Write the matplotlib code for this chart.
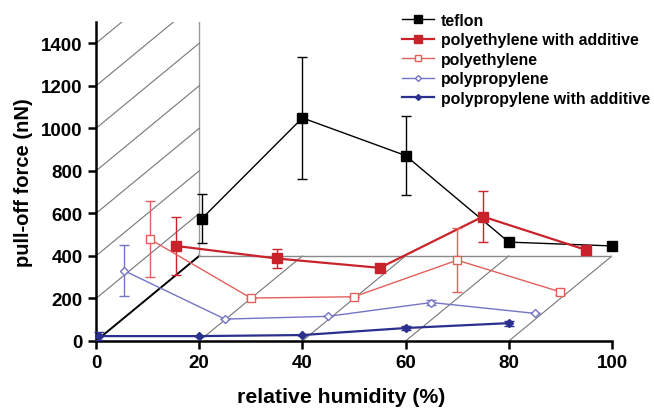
import numpy as np
import matplotlib.pyplot as plt
from matplotlib.lines import Line2D

plt.rcParams['font.family'] = ['Liberation Sans', 'DejaVu Sans']
plt.rcParams['font.weight'] = 'bold'

# relative humidity of each measurement (%)
humidity = [0.5, 20, 40, 60, 80]

# series listed front to back; values are above each series' own floor
series_names = ['polypropylene with additive', 'polypropylene', 'polyethylene',
                'polyethylene with additive', 'teflon']
pp_additive = [23, 23, 28, 61, 84]
pp_additive_err = [20, 0, 0, 8, 12]
pp = [230, 3, 16, 81, 30]
pp_err = [120, 0, 0, 14, 0]
pe = [278, 2, 8, 180, 31]
pe_err = [178, 0, 0, 150, 15]
pe_additive = [147, 88, 44, 285, 128]
pe_additive_err = [135, 45, 0, 120, 20]
teflon = [175, 649, 472, 65, 47]
teflon_err = [115, 288, 185, 0, 0]

values = [pp_additive, pp, pe, pe_additive, teflon]
errors = [pp_additive_err, pp_err, pe_err, pe_additive_err, teflon_err]

styles = [
    dict(color='#2b2f8e', marker='D', ms=4, mfc='#2b2f8e', lw=1.6),
    dict(color='#7474c4', marker='D', ms=4, mfc='white', lw=1.0),
    dict(color='#e2605a', marker='s', ms=6, mfc='white', lw=1.0),
    dict(color='#c8232b', marker='s', ms=7, mfc='#c8232b', lw=1.6),
    dict(color='black', marker='s', ms=7, mfc='black', lw=1.0),
]

# pseudo-3D depth step: each series moves right and up
dx, dy = 5, 100
depth = 20
floor_h = 400

fig = plt.figure(figsize=(6.54, 4.10), dpi=100)
ax = fig.add_axes([96 / 654, 1 - 342 / 410, 516 / 654, 319 / 410])
ax.set_xlim(0, 100)
ax.set_ylim(0, 1500)

# floor
grid_c = '#767676'
for x0 in [20, 40, 60, 80]:
    ax.plot([x0, x0 + depth], [0, floor_h], color=grid_c, lw=0.8, zorder=1)
ax.plot([depth, 100], [floor_h, floor_h], color='#8a8a8a', lw=1.0, zorder=1)
ax.plot([0, depth], [0, floor_h], color='black', lw=1.4, zorder=1)
# back wall
ax.plot([depth, depth], [floor_h, 1500], color='#9a9a9a', lw=1.0, zorder=1)
for y0 in range(200, 1500, 200):
    ax.plot([0, depth], [y0, y0 + floor_h], color=grid_c, lw=0.8, zorder=1)

handles = {}
for k in range(len(values) - 1, -1, -1):
    xs = np.array(humidity) + k * dx
    ys = np.array(values[k]) + k * dy
    st = styles[k]
    ax.errorbar(xs, ys, yerr=errors[k], color=st['color'], lw=st['lw'],
                marker=st['marker'], ms=st['ms'], mfc=st['mfc'],
                mec=st['color'], mew=1.0, capsize=3.5, elinewidth=1.0,
                capthick=1.0, zorder=3 + (5 - k), clip_on=False)
    handles[series_names[k]] = Line2D([], [], color=st['color'], lw=st['lw'],
                                      marker=st['marker'], ms=st['ms'] - 1,
                                      mfc=st['mfc'], mec=st['color'], mew=1.0)

ax.spines['top'].set_visible(False)
ax.spines['right'].set_visible(False)
ax.spines['left'].set_linewidth(1.8)
ax.spines['bottom'].set_linewidth(1.8)
ax.set_xticks(range(0, 101, 20))
ax.set_yticks(range(0, 1401, 200))
ax.tick_params(width=1.8, length=6, labelsize=13.5, direction='out')
for lab in ax.get_xticklabels() + ax.get_yticklabels():
    lab.set_fontweight('bold')
ax.set_xlabel('relative humidity (%)', fontsize=15.3, fontweight='bold')
ax.xaxis.set_label_coords((341 - 96) / 516, -0.145)
ax.set_ylabel('pull-off force (nN)', fontsize=14.5, fontweight='bold', labelpad=6)

order = ['teflon', 'polyethylene with additive', 'polyethylene', 'polypropylene',
         'polypropylene with additive']
leg = fig.legend([handles[n] for n in order], order, loc='upper left',
                 bbox_to_anchor=(402 / 654, 1 - 14 / 410), frameon=False,
                 fontsize=11.4, handlelength=2.0, handletextpad=0.45,
                 labelspacing=0.28, borderaxespad=0, borderpad=0)
for t in leg.get_texts():
    t.set_fontweight('bold')

fig.savefig('out.png', dpi=100)
